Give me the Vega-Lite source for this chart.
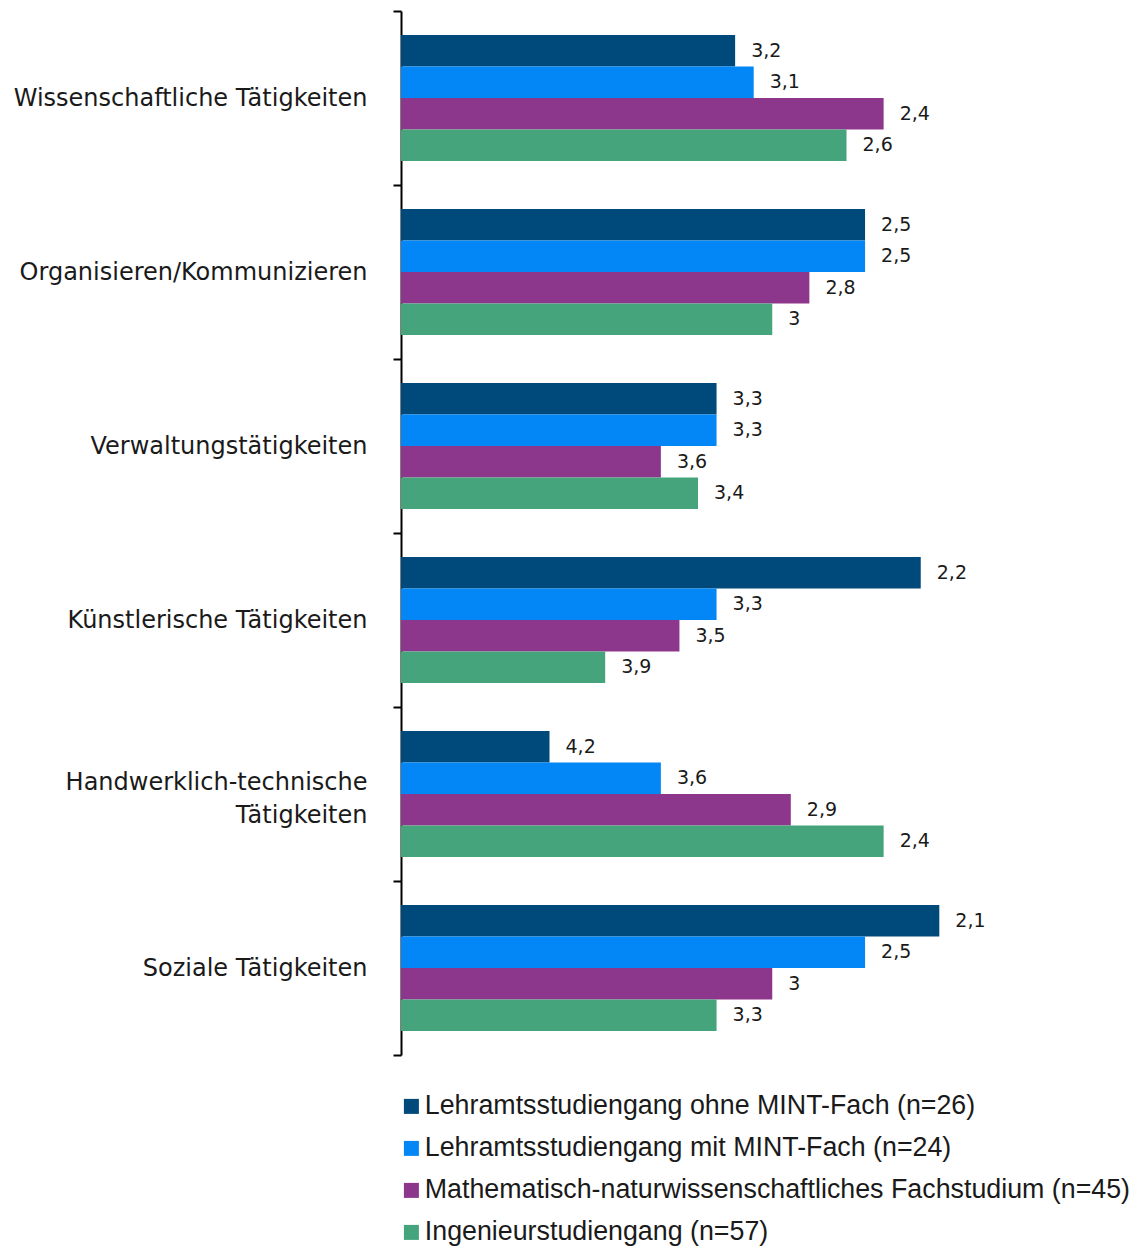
{
  "$schema": "https://vega.github.io/schema/vega-lite/v6.json",
  "width": 594,
  "height": 1044,
  "autosize": "none",
  "padding": {"left": 401, "top": 11, "right": 141, "bottom": 191},
  "background": "white",
  "config": {
    "view": {"stroke": null},
    "locale": {"number": {"decimal": ",", "thousands": ".", "grouping": [3], "currency": ["", " €"]}}
  },
  "data": {
    "values": [
      {"kategorie": "Wissenschaftliche Tätigkeiten", "gruppe": "Lehramtsstudiengang ohne MINT-Fach (n=26)", "wert": 3.2},
      {"kategorie": "Wissenschaftliche Tätigkeiten", "gruppe": "Lehramtsstudiengang mit MINT-Fach (n=24)", "wert": 3.1},
      {"kategorie": "Wissenschaftliche Tätigkeiten", "gruppe": "Mathematisch-naturwissenschaftliches Fachstudium (n=45)", "wert": 2.4},
      {"kategorie": "Wissenschaftliche Tätigkeiten", "gruppe": "Ingenieurstudiengang (n=57)", "wert": 2.6},
      {"kategorie": "Organisieren/Kommunizieren", "gruppe": "Lehramtsstudiengang ohne MINT-Fach (n=26)", "wert": 2.5},
      {"kategorie": "Organisieren/Kommunizieren", "gruppe": "Lehramtsstudiengang mit MINT-Fach (n=24)", "wert": 2.5},
      {"kategorie": "Organisieren/Kommunizieren", "gruppe": "Mathematisch-naturwissenschaftliches Fachstudium (n=45)", "wert": 2.8},
      {"kategorie": "Organisieren/Kommunizieren", "gruppe": "Ingenieurstudiengang (n=57)", "wert": 3.0},
      {"kategorie": "Verwaltungstätigkeiten", "gruppe": "Lehramtsstudiengang ohne MINT-Fach (n=26)", "wert": 3.3},
      {"kategorie": "Verwaltungstätigkeiten", "gruppe": "Lehramtsstudiengang mit MINT-Fach (n=24)", "wert": 3.3},
      {"kategorie": "Verwaltungstätigkeiten", "gruppe": "Mathematisch-naturwissenschaftliches Fachstudium (n=45)", "wert": 3.6},
      {"kategorie": "Verwaltungstätigkeiten", "gruppe": "Ingenieurstudiengang (n=57)", "wert": 3.4},
      {"kategorie": "Künstlerische Tätigkeiten", "gruppe": "Lehramtsstudiengang ohne MINT-Fach (n=26)", "wert": 2.2},
      {"kategorie": "Künstlerische Tätigkeiten", "gruppe": "Lehramtsstudiengang mit MINT-Fach (n=24)", "wert": 3.3},
      {"kategorie": "Künstlerische Tätigkeiten", "gruppe": "Mathematisch-naturwissenschaftliches Fachstudium (n=45)", "wert": 3.5},
      {"kategorie": "Künstlerische Tätigkeiten", "gruppe": "Ingenieurstudiengang (n=57)", "wert": 3.9},
      {"kategorie": "Handwerklich-technische Tätigkeiten", "gruppe": "Lehramtsstudiengang ohne MINT-Fach (n=26)", "wert": 4.2},
      {"kategorie": "Handwerklich-technische Tätigkeiten", "gruppe": "Lehramtsstudiengang mit MINT-Fach (n=24)", "wert": 3.6},
      {"kategorie": "Handwerklich-technische Tätigkeiten", "gruppe": "Mathematisch-naturwissenschaftliches Fachstudium (n=45)", "wert": 2.9},
      {"kategorie": "Handwerklich-technische Tätigkeiten", "gruppe": "Ingenieurstudiengang (n=57)", "wert": 2.4},
      {"kategorie": "Soziale Tätigkeiten", "gruppe": "Lehramtsstudiengang ohne MINT-Fach (n=26)", "wert": 2.1},
      {"kategorie": "Soziale Tätigkeiten", "gruppe": "Lehramtsstudiengang mit MINT-Fach (n=24)", "wert": 2.5},
      {"kategorie": "Soziale Tätigkeiten", "gruppe": "Mathematisch-naturwissenschaftliches Fachstudium (n=45)", "wert": 3.0},
      {"kategorie": "Soziale Tätigkeiten", "gruppe": "Ingenieurstudiengang (n=57)", "wert": 3.3}
    ]
  },
  "encoding": {
    "y": {
      "field": "kategorie",
      "type": "nominal",
      "sort": null,
      "scale": {"paddingInner": 0, "paddingOuter": 0},
      "axis": {
        "title": null,
        "domainColor": "#000000",
        "domainWidth": 2,
        "tickColor": "#000000",
        "tickWidth": 2,
        "tickSize": 8,
        "tickBand": "extent",
        "labelFont": "DejaVu Sans",
        "labelFontSize": 24,
        "labelColor": "#1a1a1a",
        "labelPadding": 26,
        "labelLimit": 500,
        "labelLineHeight": 33,
        "labelOffset": {"condition": {"test": "datum.value == 'Handwerklich-technische Tätigkeiten'", "value": -11.5}, "value": 0},
        "labelExpr": "datum.label == 'Handwerklich-technische Tätigkeiten' ? ['Handwerklich-technische', 'Tätigkeiten'] : datum.label"
      }
    },
    "yOffset": {
      "field": "gruppe",
      "type": "nominal",
      "sort": ["Lehramtsstudiengang ohne MINT-Fach (n=26)", "Lehramtsstudiengang mit MINT-Fach (n=24)", "Mathematisch-naturwissenschaftliches Fachstudium (n=45)", "Ingenieurstudiengang (n=57)"],
      "scale": {"paddingInner": 0, "paddingOuter": 0.762}
    }
  },
  "layer": [
    {
      "mark": {"type": "bar"},
      "encoding": {
        "x": {"field": "wert", "type": "quantitative", "scale": {"domain": [1.8, 5], "reverse": true, "zero": false, "nice": false}, "axis": null},
        "x2": {"datum": 5},
        "color": {
          "field": "gruppe",
          "type": "nominal",
          "scale": {
            "domain": ["Lehramtsstudiengang ohne MINT-Fach (n=26)", "Lehramtsstudiengang mit MINT-Fach (n=24)", "Mathematisch-naturwissenschaftliches Fachstudium (n=45)", "Ingenieurstudiengang (n=57)"],
            "range": ["#004A7B", "#0387F7", "#8D378C", "#45A47B"]
          },
          "legend": {
            "title": null,
            "orient": "none",
            "legendX": -3,
            "legendY": 1082,
            "direction": "vertical",
            "symbolType": "square",
            "symbolSize": 225,
            "symbolStrokeWidth": 0,
            "labelFont": "Liberation Sans",
            "labelFontSize": 26.8,
            "labelColor": "#1a1a1a",
            "labelOffset": 0,
            "labelLimit": 800,
            "rowPadding": 14
          }
        }
      }
    },
    {
      "mark": {"type": "text", "align": "left", "baseline": "middle", "dx": 16, "fontSize": 19, "font": "DejaVu Sans", "color": "#1a1a1a"},
      "encoding": {
        "x": {"field": "wert", "type": "quantitative"},
        "text": {"field": "wert", "type": "quantitative", "format": ".1~f"}
      }
    }
  ]
}
